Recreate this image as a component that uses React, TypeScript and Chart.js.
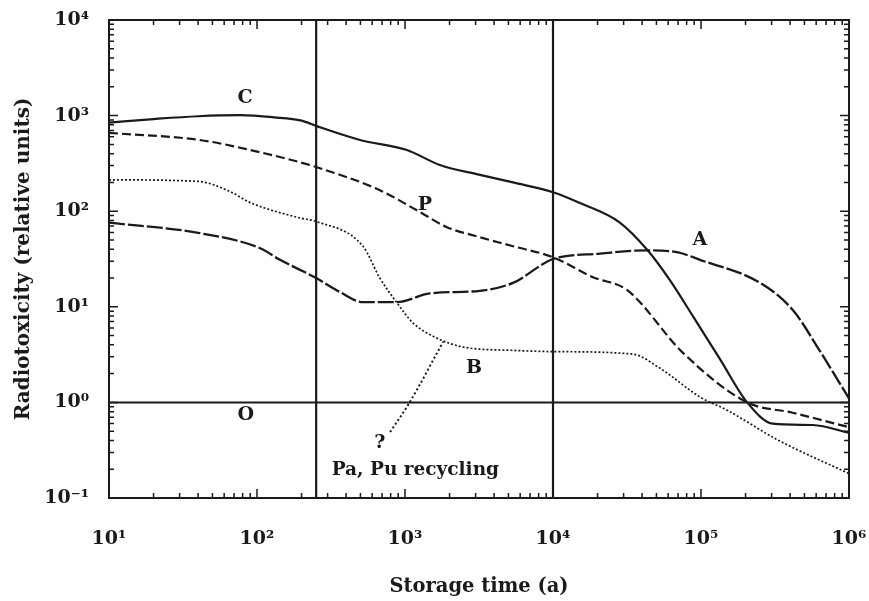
import React, { useEffect, useRef } from "react";
import { Chart, registerables } from "chart.js";
Chart.register(...registerables);

// ---- axes ----
const X_TICKS = [10, 100, 1000, 10000, 100000, 1000000];
const X_TICK_LABELS = ["10¹", "10²", "10³", "10⁴", "10⁵", "10⁶"];
const Y_TICKS = [0.1, 1, 10, 100, 1000, 10000];
const Y_TICK_LABELS = ["10⁻¹", "10⁰", "10¹", "10²", "10³", "10⁴"];

// ---- curves ----
const C_X = [10, 20, 40, 77, 130, 200, 251, 497, 1030, 1720, 3210, 5370, 10000, 15200, 28000, 43600, 61600, 89000, 135000, 205000, 306000, 571000, 1000000];
const C_Y = [845, 920, 985, 1010, 960, 885, 780, 556, 437, 304, 240, 200, 158, 122, 77, 39, 19, 7.8, 2.8, 1.0, 0.6, 0.58, 0.48];

const P_X = [10, 41, 90, 195, 251, 676, 1260, 1920, 3000, 5370, 10000, 18600, 31600, 75500, 205000, 416000, 1000000];
const P_Y = [660, 556, 437, 325, 290, 166, 98, 68, 55, 43, 33, 20.4, 15, 3.3, 1.0, 0.78, 0.55];

const A_X = [10, 41, 105, 143, 251, 363, 520, 883, 1470, 3210, 5370, 10000, 20800, 43600, 70000, 98400, 251000, 416000, 632000, 1000000];
const A_Y = [76, 59, 41, 31, 20, 14.3, 11.2, 11.2, 13.8, 14.7, 17.8, 31.6, 36, 39, 37, 31, 17.8, 9.3, 3.5, 1.1];

const B_X = [10, 40, 66, 90, 195, 251, 520, 676, 883, 1130, 1645, 2460, 5370, 10000, 34600, 52300, 98400, 150000, 325000, 1000000];
const B_Y = [213, 205, 160, 123, 85, 78, 43, 20, 11, 6.8, 4.7, 3.8, 3.5, 3.4, 3.2, 2.3, 1.14, 0.83, 0.41, 0.18];

const R_X = [794, 1070, 1810];
const R_Y = [0.49, 0.99, 4.3];

// ---- reference lines ----
const V_LINES_X = [251, 10000];
const H_LINE_Y = 1;

// ---- text labels (data coords) ----
const LABEL_TEXTS = ["C", "P", "A", "B", "O", "?", "Pa, Pu recycling"];
const LABEL_X = [83, 1365, 98400, 2925, 84, 676, 1175];
const LABEL_Y = [1528, 116, 50, 2.29, 0.74, 0.38, 0.196];

const INK = "#1a1a1a";
const FONT = "'DejaVu Serif', serif";

function series(xs: number[], ys: number[], dash: number[], width: number) {
  return {
    data: xs.map((x, i) => ({ x, y: ys[i] })),
    borderColor: INK,
    borderWidth: width,
    borderDash: dash,
    pointRadius: 0,
    showLine: true,
    fill: false,
    cubicInterpolationMode: "monotone" as const,
  };
}

function straight(pts: { x: number; y: number }[], width: number) {
  return {
    data: pts,
    borderColor: INK,
    borderWidth: width,
    pointRadius: 0,
    showLine: true,
    fill: false,
    tension: 0,
  };
}

const decorPlugin = {
  id: "decor",
  afterDatasetsDraw(chart: any) {
    const { ctx, chartArea: a, scales } = chart;
    const xs = scales.x;
    const ys = scales.y;
    ctx.save();
    ctx.strokeStyle = INK;
    ctx.lineWidth = 1.5;
    for (let d = 1; d < 6; d++) {
      for (let m = 1; m <= 9; m++) {
        const v = m * Math.pow(10, d);
        const px = xs.getPixelForValue(v);
        const len = m === 1 ? 9 : 5;
        ctx.beginPath();
        ctx.moveTo(px, a.bottom);
        ctx.lineTo(px, a.bottom - len);
        ctx.moveTo(px, a.top);
        ctx.lineTo(px, a.top + len);
        ctx.stroke();
      }
    }
    for (let d = -1; d < 4; d++) {
      for (let m = 1; m <= 9; m++) {
        const v = m * Math.pow(10, d);
        const py = ys.getPixelForValue(v);
        const len = m === 1 ? 9 : 5;
        ctx.beginPath();
        ctx.moveTo(a.left, py);
        ctx.lineTo(a.left + len, py);
        ctx.moveTo(a.right, py);
        ctx.lineTo(a.right - len, py);
        ctx.stroke();
      }
    }
    ctx.lineWidth = 2;
    ctx.strokeRect(a.left, a.top, a.right - a.left, a.bottom - a.top);
    ctx.fillStyle = INK;
    ctx.textAlign = "center";
    ctx.textBaseline = "middle";
    LABEL_TEXTS.forEach((t, i) => {
      const size = t.length > 2 ? 18.5 : 19;
      ctx.font = `bold ${size}px ${FONT}`;
      ctx.fillText(t, xs.getPixelForValue(LABEL_X[i]), ys.getPixelForValue(LABEL_Y[i]));
    });
    ctx.restore();
  },
};

function labelFor(ticks: number[], labels: string[], value: number) {
  const i = ticks.findIndex((v) => Math.abs(Math.log10(v) - Math.log10(value)) < 1e-6);
  return i >= 0 ? labels[i] : "";
}

export default function App() {
  const ref = useRef<HTMLCanvasElement | null>(null);
  useEffect(() => {
    if (!ref.current) return;
    const datasets: any[] = [
      series(C_X, C_Y, [], 2.2),
      series(P_X, P_Y, [9, 4], 2.2),
      series(A_X, A_Y, [16, 3], 2.3),
      series(B_X, B_Y, [2, 2], 1.7),
      series(R_X, R_Y, [2, 2.5], 2),
      ...V_LINES_X.map((vx) =>
        straight([
          { x: vx, y: Y_TICKS[0] },
          { x: vx, y: Y_TICKS[Y_TICKS.length - 1] },
        ], 2.2)
      ),
      straight([
        { x: X_TICKS[0], y: H_LINE_Y },
        { x: X_TICKS[X_TICKS.length - 1], y: H_LINE_Y },
      ], 2),
    ];
    const chart = new Chart(ref.current, {
      type: "scatter",
      data: { datasets },
      options: {
        animation: false,
        responsive: false,
        devicePixelRatio: 1,
        layout: { padding: { top: 20, right: 20, left: 0, bottom: 0 } },
        plugins: { legend: { display: false }, tooltip: { enabled: false } },
        scales: {
          x: {
            type: "logarithmic",
            min: 10,
            max: 1000000,
            grid: { display: false },
            border: { display: false },
            afterBuildTicks: (s: any) => {
              s.ticks = X_TICKS.map((v) => ({ value: v }));
            },
            afterFit: (s: any) => {
              s.height = 103;
              s.paddingLeft = 0;
              s.paddingRight = 0;
            },
            ticks: {
              autoSkip: false,
              maxRotation: 0,
              padding: 22,
              color: INK,
              font: { family: FONT, size: 19, weight: "bold" },
              callback: (v: any) => labelFor(X_TICKS, X_TICK_LABELS, Number(v)),
            },
            title: {
              display: true,
              text: "Storage time (a)",
              color: INK,
              font: { family: FONT, size: 19.5, weight: "bold" },
              padding: { top: 0, bottom: 2 },
            },
          },
          y: {
            type: "logarithmic",
            min: 0.1,
            max: 10000,
            grid: { display: false },
            border: { display: false },
            afterBuildTicks: (s: any) => {
              s.ticks = Y_TICKS.map((v) => ({ value: v }));
            },
            afterFit: (s: any) => {
              s.width = 109;
              s.paddingTop = 0;
              s.paddingBottom = 0;
            },
            ticks: {
              autoSkip: false,
              padding: 12,
              color: INK,
              font: { family: FONT, size: 19, weight: "bold" },
              callback: (v: any) => labelFor(Y_TICKS, Y_TICK_LABELS, Number(v)),
            },
            title: {
              display: true,
              text: "Radiotoxicity (relative units)",
              color: INK,
              font: { family: FONT, size: 20, weight: "bold" },
              padding: { top: 12, bottom: 0 },
            },
          },
        },
      },
      plugins: [decorPlugin],
    } as any);
    return () => chart.destroy();
  }, []);
  return (
    <div style={{ position: "absolute", left: 0, top: 0, width: 869, height: 601, background: "#fff" }}>
      <canvas ref={ref} width={869} height={601} style={{ display: "block" }} />
    </div>
  );
}
